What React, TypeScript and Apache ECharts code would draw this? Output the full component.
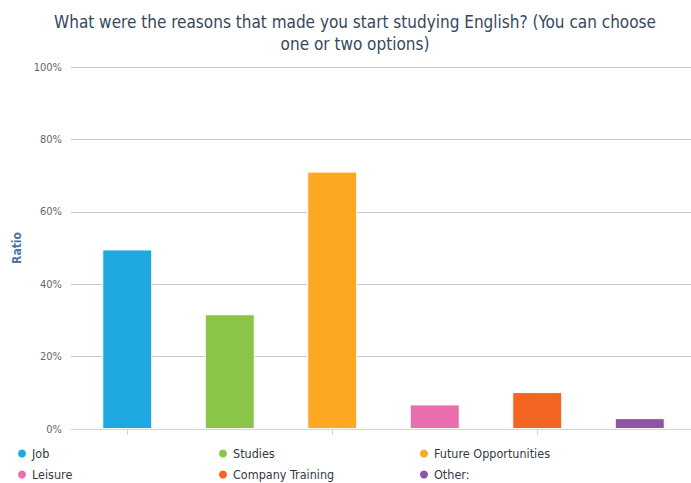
import React, { useEffect, useRef } from "react";
import * as echarts from "echarts";

const categories = ["Job", "Studies", "Future Opportunities", "Leisure", "Company Training", "Other:"];
const values = [49.6, 31.7, 71.1, 6.8, 10.2, 3.0];
const colors = ["#1ea8e0", "#8bc548", "#fca823", "#e86ead", "#f26522", "#8e55a3"];
const yTicks = [0, 20, 40, 60, 80, 100];

const FONT = "'DejaVu Sans Condensed', 'DejaVu Sans', sans-serif";

export default function App() {
  const ref = useRef<HTMLDivElement>(null);
  useEffect(() => {
    if (!ref.current) return;
    const chart = echarts.init(ref.current, null, { renderer: "svg" });
    const series = categories.map((name, i) => ({
      name,
      type: "bar",
      stack: "all",
      barWidth: 50,
      xAxisIndex: 0,
      yAxisIndex: 0,
      data: categories.map((_, j) => (j === i ? values[i] : "-")),
      itemStyle: { color: colors[i], borderColor: "#ffffff", borderWidth: 1 },
    }));
    const legendCols = [0, 1, 2].map((c) => ({
      orient: "vertical",
      left: 16 + c * 201,
      top: 447,
      height: 34,
      padding: 0,
      itemWidth: 10,
      itemHeight: 10,
      itemGap: 8,
      icon: "circle",
      textStyle: { fontFamily: FONT, fontSize: 12.5, color: "#333a45", lineHeight: 12 },
      data: [categories[c], categories[c + 3]],
    }));
    chart.setOption({
      animation: false,
      color: colors,
      title: {
        text: "What were the reasons that made you start studying English? (You can choose\none or two options)",
        left: 350,
        top: 6,
        textAlign: "center",
        textStyle: { fontFamily: FONT, fontSize: 17, fontWeight: "normal", color: "#34495e", lineHeight: 22 },
      },
      legend: legendCols,
      grid: [
        { left: 76, right: -3, top: 67, bottom: 54, containLabel: false },
        { left: 71, right: 0, top: 67, bottom: 54, containLabel: false },
      ],
      xAxis: [
        {
          type: "category",
          gridIndex: 0,
          data: categories,
          axisLine: { show: false },
          axisTick: { show: true, alignWithLabel: true, length: 6, lineStyle: { color: "#ccd6eb" } },
          axisLabel: { show: false },
        },
        {
          type: "category",
          gridIndex: 1,
          data: categories,
          axisLine: { show: true, lineStyle: { color: "#ccd6eb" } },
          axisTick: { show: false },
          axisLabel: { show: false },
        },
      ],
      yAxis: [
        {
          type: "value",
          gridIndex: 0,
          min: 0,
          max: 100,
          interval: 20,
          axisLabel: { show: false },
          splitLine: { show: false },
          axisLine: { show: false },
          axisTick: { show: false },
        },
        {
          type: "value",
          gridIndex: 1,
          min: 0,
          max: 100,
          interval: 20,
          name: "Ratio",
          nameLocation: "middle",
          nameGap: 48,
          nameTextStyle: { fontFamily: FONT, fontSize: 12, fontWeight: "bold", color: "#4a74a5" },
          axisLabel: {
            fontFamily: FONT,
            fontSize: 11,
            color: "#666666",
            margin: 9,
            formatter: (v: number) => (yTicks.includes(v) ? v + "%" : ""),
          },
          splitLine: { lineStyle: { color: "#c8c8c8" } },
          axisLine: { show: false },
          axisTick: { show: false },
        },
      ],
      series,
    });
    return () => chart.dispose();
  }, []);
  return (
    <div
      ref={ref}
      style={{ position: "absolute", left: 0, top: 0, width: 691, height: 483 }}
    />
  );
}
